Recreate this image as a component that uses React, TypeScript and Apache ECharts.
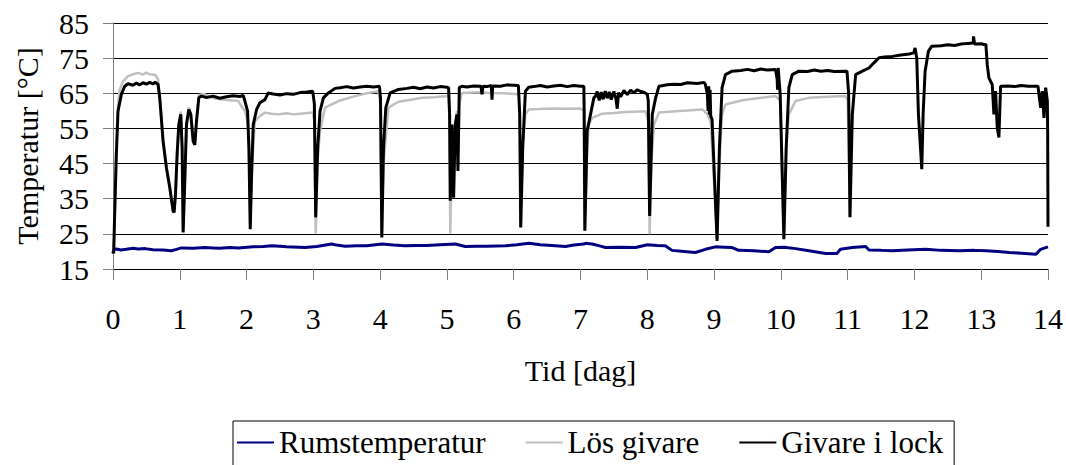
import React, { useEffect, useRef } from "react";
import * as echarts from "echarts";

const seriesNames = ["Rumstemperatur", "Lös givare", "Givare i lock"];
const yTicks = [15, 25, 35, 45, 55, 65, 75, 85];
const xTicks = [0, 1, 2, 3, 4, 5, 6, 7, 8, 9, 10, 11, 12, 13, 14];

// [dag, °C]
const rumstemperatur: [number, number][] = [
  [0, 19.5], [0.01, 20.5], [0.05, 20.7], [0.12, 20.4], [0.2, 20.6], [0.3, 20.9], [0.375, 20.7], [0.48, 20.8], [0.6, 20.5],
  [0.75, 20.4], [0.875, 20.2], [0.95, 20.6], [1.025, 21.0], [1.2, 20.9], [1.375, 21.1], [1.5, 21.0], [1.6, 20.9],
  [1.75, 21.1], [1.875, 21.0], [2.1, 21.3], [2.25, 21.4], [2.375, 21.6], [2.5, 21.5], [2.6, 21.3], [2.875, 21.1],
  [3.05, 21.4], [3.275, 22.1], [3.35, 21.8], [3.475, 21.5], [3.65, 21.6], [3.8, 21.6], [4.025, 22.1], [4.2, 21.8],
  [4.375, 21.6], [4.55, 21.7], [4.7, 21.7], [4.9, 21.9], [5.125, 22.1], [5.275, 21.4], [5.45, 21.5], [5.6, 21.5],
  [5.875, 21.6], [6.05, 21.9], [6.225, 22.3], [6.4, 21.9], [6.625, 21.6], [6.775, 21.4], [6.9, 21.8], [7.05, 22.1],
  [7.075, 22.3], [7.175, 22.1], [7.3, 21.5], [7.375, 21.1], [7.6, 21.2], [7.825, 21.1], [8.0, 21.9], [8.15, 21.7],
  [8.27, 21.6], [8.37, 20.3], [8.55, 20.0], [8.72, 19.7], [8.87, 20.6], [9.02, 21.3], [9.15, 21.2], [9.27, 21.1],
  [9.37, 20.3], [9.6, 20.2], [9.82, 19.9], [9.92, 21.1], [10.05, 21.2], [10.22, 20.8], [10.42, 20.2], [10.67, 19.4],
  [10.84, 19.4], [10.89, 20.6], [11.07, 21.1], [11.27, 21.4], [11.32, 20.4], [11.5, 20.3], [11.67, 20.2], [11.9, 20.4],
  [12.17, 20.6], [12.4, 20.3], [12.67, 20.2], [12.9, 20.3], [13.07, 20.2], [13.25, 20.0], [13.42, 19.7], [13.6, 19.5],
  [13.82, 19.2], [13.89, 20.6], [14.0, 21.3]
];

const losGivare: [number, number][] = [
  [0, 20], [0.01, 19.5], [0.025, 30], [0.05, 50], [0.075, 62], [0.1, 66], [0.15, 68.4], [0.225, 69.9], [0.3, 70.4],
  [0.375, 70.8], [0.45, 70.3], [0.5, 70.9], [0.55, 70.4], [0.63, 70.3], [0.675, 69], [0.7, 63.7], [0.75, 51.4],
  [0.8, 43.8], [0.85, 38.2], [0.9, 31.5], [0.915, 31.1], [0.935, 36], [0.96, 47.6], [0.985, 56.5], [1.015, 59.8],
  [1.035, 49.5], [1.05, 26], [1.075, 40], [1.1, 56.1], [1.135, 61], [1.165, 59.5], [1.2, 52], [1.225, 51], [1.25, 57.5],
  [1.285, 64.5], [1.325, 64.7], [1.375, 64.7], [1.5, 63.6], [1.625, 63.2], [1.75, 63.0], [1.875, 62.8], [1.925, 61.3],
  [1.975, 59.9], [2.015, 57], [2.035, 49.5], [2.055, 27], [2.075, 40], [2.1, 50], [2.125, 57.1], [2.2, 58.5],
  [2.275, 59.5], [2.375, 59.2], [2.475, 59], [2.6, 59.3], [2.7, 59.0], [2.8, 59.2], [2.99, 59.5], [3.015, 57],
  [3.035, 25.1], [3.06, 45], [3.1, 54.3], [3.175, 60.9], [3.375, 62.8], [3.625, 64.2], [3.8, 65.0], [3.975, 65.6],
  [4.005, 62], [4.025, 24.5], [4.05, 45], [4.125, 60.9], [4.275, 62.6], [4.5, 63.3], [4.625, 63.7], [4.8, 63.9],
  [5.025, 64.2], [5.04, 58], [5.05, 25.1], [5.075, 50], [5.1, 35.5], [5.125, 56], [5.15, 60], [5.165, 45], [5.185, 62],
  [5.225, 65.1], [5.5, 65.3], [5.625, 65.1], [5.85, 65.0], [6.075, 64.7], [6.09, 58], [6.105, 27], [6.135, 50],
  [6.175, 59], [6.225, 60.4], [6.375, 60.5], [6.6, 60.7], [6.8, 60.6], [7.0, 60.7], [7.05, 60], [7.065, 26], [7.1, 50],
  [7.125, 56.1], [7.175, 58], [7.325, 59.2], [7.5, 59.4], [7.675, 59.7], [7.975, 59.9], [8.015, 57], [8.035, 24.9],
  [8.06, 45], [8.1, 56.1], [8.175, 59.5], [8.425, 59.9], [8.6, 60.1], [8.825, 60.4], [8.9, 59], [8.95, 57],
  [9.045, 23.5], [9.08, 45], [9.12, 59], [9.17, 61.8], [9.42, 63], [9.65, 63.6], [9.92, 64.2], [9.99, 63],
  [10.045, 24], [10.08, 50], [10.12, 59], [10.22, 62.8], [10.42, 63.7], [10.7, 64.0], [10.97, 64.2], [11.0, 63],
  [11.035, 30]
];

const givareILock: [number, number][] = [
  [0, 20], [0.01, 19.5], [0.025, 30.6], [0.05, 47.6], [0.075, 59.9], [0.125, 64.7], [0.175, 67], [0.225, 67.7],
  [0.3, 67.3], [0.35, 67.9], [0.4, 67.4], [0.45, 68.0], [0.5, 67.6], [0.55, 68.1], [0.6, 67.7], [0.63, 68.2],
  [0.675, 67.5], [0.7, 63.7], [0.75, 51.4], [0.8, 43.8], [0.85, 38.2], [0.9, 31.5], [0.915, 31.1], [0.935, 36],
  [0.96, 47.6], [0.985, 56], [1.015, 59], [1.035, 49.5], [1.05, 25.4], [1.075, 40], [1.1, 56.1], [1.135, 60.4],
  [1.165, 59], [1.2, 51.4], [1.225, 50.3], [1.25, 57], [1.285, 63.7], [1.325, 64.2], [1.4, 63.8], [1.5, 64.2],
  [1.6, 63.6], [1.7, 64.0], [1.8, 64.3], [1.9, 64.1], [1.95, 64.4], [1.975, 62.8], [2.015, 59.9], [2.035, 49.5],
  [2.055, 26.3], [2.075, 42], [2.1, 56.1], [2.15, 60.4], [2.2, 62.3], [2.275, 63.2], [2.325, 65.1], [2.4, 64.8],
  [2.5, 64.5], [2.6, 64.9], [2.7, 64.7], [2.8, 65.2], [2.9, 65.4], [2.99, 65.6], [3.015, 62], [3.035, 29.7],
  [3.065, 49.5], [3.1, 59.9], [3.15, 63.7], [3.225, 65.1], [3.325, 66.4], [3.4, 66.6], [3.5, 66.9], [3.6, 66.5],
  [3.7, 66.8], [3.8, 67.0], [3.9, 66.8], [3.99, 67.0], [4.005, 63.7], [4.025, 24], [4.05, 49.5], [4.085, 60.9],
  [4.15, 65.1], [4.275, 66.1], [4.4, 66.4], [4.5, 66.7], [4.6, 66.3], [4.7, 66.8], [4.8, 66.5], [4.9, 66.9],
  [5.0, 66.7], [5.025, 66.6], [5.04, 59], [5.05, 34.4], [5.075, 56.1], [5.1, 35.3], [5.125, 56.1], [5.15, 59],
  [5.165, 42.9], [5.185, 66.6], [5.225, 67], [5.3, 66.8], [5.4, 67.1], [5.51, 67], [5.525, 64.7], [5.54, 67.0],
  [5.6, 66.9], [5.665, 67.2], [5.675, 63.2], [5.685, 67.1], [5.8, 67.0], [5.9, 67.4], [6.0, 67.3], [6.07, 67.2],
  [6.09, 59], [6.105, 26.8], [6.135, 49.5], [6.175, 65.6], [6.225, 66.7], [6.3, 66.9], [6.4, 67.2], [6.5, 66.8],
  [6.6, 67.1], [6.7, 67.3], [6.8, 66.9], [6.9, 67.2], [7.0, 67.0], [7.05, 67.0], [7.055, 60], [7.065, 25.9],
  [7.1, 54.3], [7.15, 59], [7.2, 63.7], [7.225, 64.2], [7.25, 65.5], [7.28, 63.0], [7.31, 65.3], [7.34, 63.3],
  [7.37, 65.6], [7.4, 63.6], [7.43, 65.4], [7.46, 63.2], [7.5, 65.5], [7.53, 63.5], [7.55, 60.6], [7.57, 65.2],
  [7.6, 64.0], [7.65, 65.8], [7.7, 64.6], [7.75, 65.9], [7.8, 65.2], [7.85, 66.0], [7.9, 65.5], [7.95, 65.3],
  [8.0, 64.7], [8.015, 62.8], [8.035, 30.1], [8.075, 59], [8.125, 63.7], [8.175, 67], [8.3, 67.4], [8.4, 67.6],
  [8.5, 67.5], [8.6, 68.0], [8.75, 67.8], [8.85, 68.1], [8.87, 67.5], [8.9, 64.7], [8.91, 60], [8.92, 67],
  [8.93, 59], [8.94, 66], [8.95, 58.5], [8.97, 57.6], [9.045, 23], [9.08, 49.5], [9.12, 66.6], [9.17, 70.3],
  [9.27, 71.3], [9.4, 71.5], [9.5, 71.8], [9.6, 71.4], [9.7, 71.9], [9.8, 71.6], [9.92, 71.8], [9.945, 68.9],
  [9.95, 66], [9.96, 72.2], [9.99, 64.7], [10.045, 23.5], [10.08, 49.5], [10.12, 66.6], [10.17, 70.3], [10.27, 71.3],
  [10.4, 71.2], [10.5, 71.6], [10.6, 71.3], [10.7, 71.5], [10.8, 71.2], [10.99, 71.3], [11.015, 65], [11.035, 29.7],
  [11.07, 59], [11.12, 70.3], [11.22, 71.3], [11.32, 72.2], [11.39, 73.6], [11.47, 75.1], [11.55, 75.3],
  [11.67, 75.5], [11.8, 75.9], [11.92, 76.2], [11.99, 76.5], [12.01, 77.9], [12.035, 75], [12.06, 59], [12.11, 43.4],
  [12.13, 59], [12.16, 71.3], [12.21, 77], [12.26, 78.4], [12.4, 78.5], [12.5, 78.8], [12.6, 78.6], [12.7, 79.0],
  [12.8, 79.2], [12.88, 79.3], [12.885, 81.2], [12.9, 79.0], [13.0, 79.1], [13.04, 78.9], [13.07, 78.9],
  [13.09, 73.2], [13.115, 69.4], [13.165, 67.5], [13.19, 59], [13.215, 65.6], [13.24, 55.2], [13.265, 52.4],
  [13.29, 67], [13.4, 67.1], [13.5, 66.9], [13.6, 67.2], [13.7, 67.0], [13.85, 67.0], [13.89, 60.9], [13.915, 65.6],
  [13.94, 58], [13.965, 66.6], [13.99, 62.8], [13.995, 53.8], [14.0, 27]
];

const FONT = "'Liberation Serif', 'Times New Roman', serif";

export default function App() {
  const ref = useRef<HTMLDivElement>(null);
  useEffect(() => {
    if (!ref.current) return;
    const chart = echarts.init(ref.current, undefined, { renderer: "svg" });
    chart.setOption({
      animation: false,
      backgroundColor: "#fff",
      textStyle: { fontFamily: FONT, color: "#000" },
      grid: { left: 113, right: 18, top: 23, bottom: 196, containLabel: false },
      xAxis: {
        type: "value",
        min: xTicks[0],
        max: xTicks[xTicks.length - 1],
        interval: 1,
        name: "Tid [dag]",
        nameLocation: "middle",
        nameGap: 86,
        nameTextStyle: { fontSize: 30, fontFamily: FONT, color: "#000" },
        axisLine: { show: true, onZero: false, lineStyle: { color: "#000", width: 1 } },
        axisTick: { show: true, inside: false, length: 11, lineStyle: { color: "#808080" } },
        axisLabel: { fontSize: 30, fontFamily: FONT, color: "#000", margin: 34 },
        splitLine: { show: false }
      },
      yAxis: {
        type: "value",
        min: yTicks[0],
        max: yTicks[yTicks.length - 1],
        interval: 10,
        name: "Temperatur [°C]",
        nameLocation: "middle",
        nameGap: 71,
        nameRotate: 90,
        nameTextStyle: { fontSize: 30, fontFamily: FONT, color: "#000" },
        axisLine: { show: true, lineStyle: { color: "#808080", width: 1 } },
        axisTick: { show: true, inside: false, length: 10, lineStyle: { color: "#808080" } },
        axisLabel: { fontSize: 30, fontFamily: FONT, color: "#000", margin: 24 },
        splitLine: { show: true, lineStyle: { color: "#000", width: 1 } }
      },
      legend: {
        show: true,
        left: 233,
        top: 421,
        orient: "horizontal",
        data: seriesNames,
        icon: "rect",
        itemWidth: 37,
        itemHeight: 2,
        itemGap: 40,
        padding: [6, 11, 12, 4],
        borderColor: "#000",
        borderWidth: 1,
        textStyle: { fontSize: 31, fontFamily: FONT, color: "#000" }
      },
      series: [
        {
          name: seriesNames[0],
          type: "line",
          data: rumstemperatur,
          showSymbol: false,
          symbol: "none",
          itemStyle: { color: "#000080" },
          lineStyle: { color: "#000080", width: 3 }
        },
        {
          name: seriesNames[1],
          type: "line",
          data: losGivare,
          showSymbol: false,
          symbol: "none",
          itemStyle: { color: "#C0C0C0" },
          lineStyle: { color: "#C0C0C0", width: 2.5 }
        },
        {
          name: seriesNames[2],
          type: "line",
          data: givareILock,
          showSymbol: false,
          symbol: "none",
          itemStyle: { color: "#000" },
          lineStyle: { color: "#000", width: 3 }
        }
      ]
    });
    return () => chart.dispose();
  }, []);
  return (
    <div
      ref={ref}
      style={{ position: "absolute", left: 0, top: 0, width: 1066, height: 465, background: "#fff" }}
    />
  );
}
